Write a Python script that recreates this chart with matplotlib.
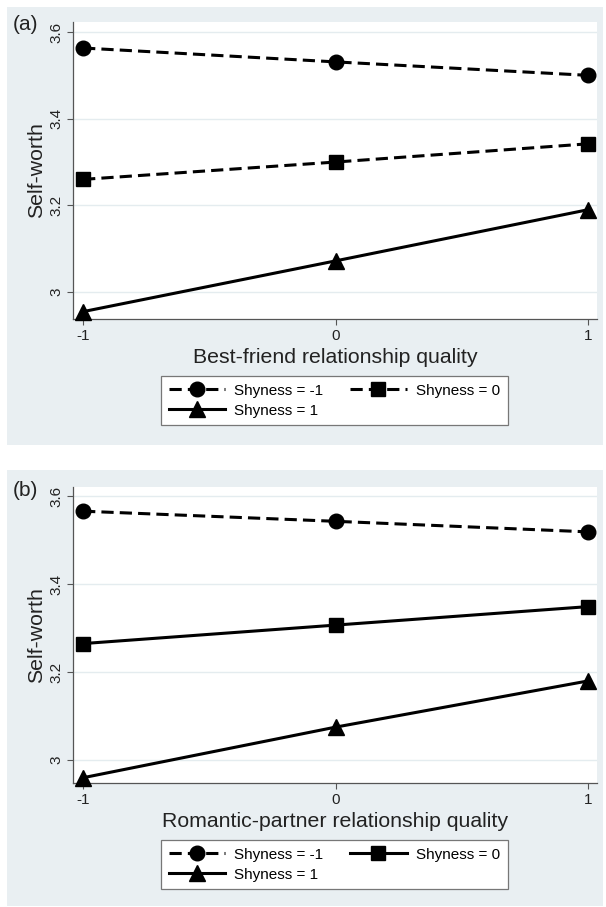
import matplotlib

matplotlib.use("Agg")
from matplotlib import pyplot as plt
from matplotlib.patches import Rectangle

plt.rcParams["font.family"] = ["Liberation Sans", "DejaVu Sans"]

# data
x_levels = [-1, 0, 1]
shy_labels = ["Shyness = -1", "Shyness = 0", "Shyness = 1"]

a_shy_neg1 = [3.563, 3.531, 3.500]
a_shy_0 = [3.260, 3.300, 3.342]
a_shy_1 = [2.955, 3.072, 3.190]

b_shy_neg1 = [3.566, 3.543, 3.519]
b_shy_0 = [3.265, 3.307, 3.349]
b_shy_1 = [2.960, 3.075, 3.180]

y_ticks = [3, 3.2, 3.4, 3.6]
y_ticklabels = ["3", "3.2", "3.4", "3.6"]
x_ticklabels = ["-1", "0", "1"]

BG = "#e9eff2"
W, H = 606, 907


def fx(px):
    return px / W


def fy(py):
    return 1 - py / H


def draw_panel(fig, top, bottom, ylim, series, styles, xlabel, tag, bg_top, bg_bottom, leg_top):
    fig.patches.append(
        Rectangle((fx(7), fy(bg_bottom)), fx(603) - fx(7), fy(bg_top) - fy(bg_bottom),
                  transform=fig.transFigure, facecolor=BG, edgecolor="none", zorder=-5)
    )
    ax = fig.add_axes([fx(73), fy(bottom), fx(597) - fx(73), fy(top) - fy(bottom)])
    ax.set_facecolor("white")

    handles = []
    for vals, label, (ls, mk) in zip(series, shy_labels, styles):
        h, = ax.plot(x_levels, vals, color="black", linestyle=ls, dashes=(4, 2) if ls == "--" else (None, None),
                     linewidth=2.2, marker=mk, markersize=10.5 if mk != "^" else 11.5,
                     clip_on=False, zorder=3, label=label)
        handles.append(h)

    ax.set_xlim(-1.04, 1.036)
    ax.set_ylim(*ylim)
    ax.set_xticks(x_levels)
    ax.set_xticklabels(x_ticklabels)
    ax.set_yticks(y_ticks)
    ax.set_yticklabels(y_ticklabels, rotation=90, va="center")
    ax.tick_params(axis="both", direction="out", length=4, width=0.8, color="#555555",
                   labelsize=11, labelcolor="#222222", pad=3)
    ax.grid(axis="y", color="#e4ecef", linewidth=1.0)
    ax.set_axisbelow(True)
    for side in ("top", "right"):
        ax.spines[side].set_visible(False)
    for side in ("left", "bottom"):
        ax.spines[side].set_color("#555555")
        ax.spines[side].set_linewidth(0.9)

    ax.set_xlabel(xlabel, fontsize=15.3, color="#222222", labelpad=4)
    ax.set_ylabel("Self-worth", fontsize=15.3, color="#222222", labelpad=2)
    ax.text(fx(13), fy(top + 3), tag, transform=fig.transFigure, fontsize=15,
            color="#222222", ha="left", va="center")

    order = [handles[0], handles[2], handles[1]]
    leg = fig.legend(order, [h.get_label() for h in order], ncol=2,
                     loc="upper left", bbox_to_anchor=(fx(161), fy(leg_top)),
                     bbox_transform=fig.transFigure, frameon=True, fancybox=False,
                     fontsize=11, handlelength=3.7, columnspacing=1.75, handletextpad=0.6,
                     labelspacing=0.4, borderpad=0.5, borderaxespad=0,
                     edgecolor="#777777", facecolor="white", framealpha=1)
    leg.get_frame().set_linewidth(0.9)
    return ax


fig = plt.figure(figsize=(W / 100, H / 100), dpi=100)

draw_panel(
    fig, 22, 319, (2.938, 3.623),
    [a_shy_neg1, a_shy_0, a_shy_1],
    [("--", "o"), ("--", "s"), ("-", "^")],
    "Best-friend relationship quality", "(a)", 7, 445, 376,
)
draw_panel(
    fig, 487, 783, (2.948, 3.621),
    [b_shy_neg1, b_shy_0, b_shy_1],
    [("--", "o"), ("-", "s"), ("-", "^")],
    "Romantic-partner relationship quality", "(b)", 470, 906, 840,
)

fig.savefig("out.png", dpi=100)
